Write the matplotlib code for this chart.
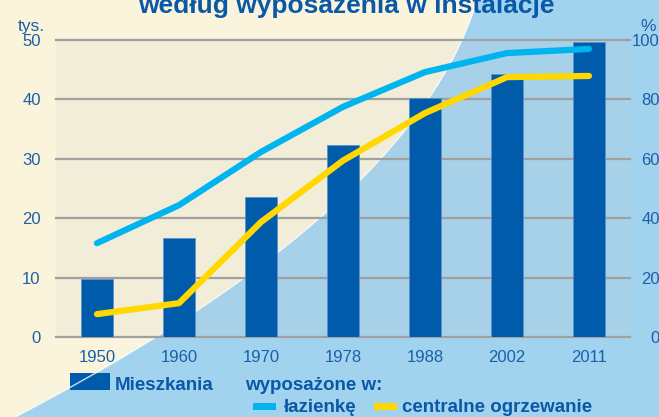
import numpy as np
import matplotlib
matplotlib.use('Agg')
import matplotlib.pyplot as plt
from matplotlib.patches import Polygon, Rectangle

# dane
lata = ['1950', '1960', '1970', '1978', '1988', '2002', '2011']
mieszkania = [9.8, 16.7, 23.6, 32.4, 40.2, 44.3, 49.7]      # tys.
lazienka = [31.6, 44.4, 62.3, 77.5, 89.2, 95.6, 97.0]       # %
ogrzewanie = [7.7, 11.4, 38.7, 59.4, 75.4, 87.5, 87.9]      # %

BEZ = '#FAF4DC'
NIEB = '#A2D3EE'
SLUPEK = '#005BAA'
CYJAN = '#00B5EF'
ZOLTY = '#FFD800'
TEKST = '#1A5FAA'
GRUBY = '#0A58A8'
SIATKA = '#A0A0A0'

plt.rcParams['font.family'] = ['Liberation Sans', 'DejaVu Sans']

W, H = 659, 417
fig = plt.figure(figsize=(W / 100, H / 100), dpi=100)

# tlo: bez + niebieski luk
bg = fig.add_axes([0, 0, 1, 1], zorder=0)
bg.set_xlim(0, W)
bg.set_ylim(H, 0)
bg.axis('off')
bg.add_patch(Rectangle((0, 0), W, H, color=BEZ, lw=0))
yy = np.linspace(0, H, 200)
xx = 477 - 0.3 * yy - 0.001937 * yy ** 2
bg.add_patch(Polygon(np.column_stack([np.r_[xx, W, W], np.r_[yy, H, 0]]), color=NIEB, lw=0))
bg.plot(xx, yy, color='white', lw=1.0, alpha=0.8)
bg.add_patch(Rectangle((56, 40), 574, 297, color='#C8C8C8', alpha=0.15, lw=0))

# wykres
ax = fig.add_axes([56 / W, 1 - 337 / H, 574 / W, 297 / H], zorder=1)
ax.patch.set_alpha(0)
x = np.arange(len(lata))
ax.bar(x, mieszkania, width=0.39, color=SLUPEK, edgecolor='#5B93CC', lw=0.6, zorder=2)
ax.set_xlim(-0.5, 6.5)
ax.set_ylim(0, 50)
ax.set_yticks(range(0, 51, 10))
ax.set_xticks(x, lata)
ax.grid(axis='y', color=SIATKA, lw=1.6)
ax.set_axisbelow(True)
for gl in ax.get_ygridlines():
    gl.set_clip_on(False)
for s in ax.spines.values():
    s.set_visible(False)
ax.tick_params(length=0, labelsize=12, labelcolor=TEKST)
ax.tick_params(axis='y', pad=11)
ax.tick_params(axis='x', pad=9)

ax2 = ax.twinx()
ax2.set_ylim(0, 100)
ax2.set_yticks(range(0, 101, 20))
ax2.plot(x, lazienka, color=CYJAN, lw=4.5, solid_capstyle='round', solid_joinstyle='round')
ax2.plot(x, ogrzewanie, color=ZOLTY, lw=4.5, solid_capstyle='round', solid_joinstyle='round')
for s in ax2.spines.values():
    s.set_visible(False)
ax2.tick_params(length=0, labelsize=12, labelcolor=TEKST, pad=21.5)
for lbl in ax2.get_yticklabels():
    lbl.set_horizontalalignment('right')

# opisy osi i tytul
fig.text(18 / W, 1 - 31 / H, 'tys.', fontsize=12.5, color=TEKST, va='baseline')
fig.text(640 / W, 1 - 31 / H, '%', fontsize=12.5, color=TEKST, va='baseline')
fig.text(346 / W, 1 - 13 / H, 'według wyposażenia w instalacje', fontsize=19,
         fontweight='bold', color=GRUBY, ha='center', va='baseline')

# legenda
bg.add_patch(Rectangle((70, 373), 40, 17, color=SLUPEK, lw=0))
bg.text(115, 390, 'Mieszkania', fontsize=13.5, fontweight='bold', color=GRUBY, va='baseline')
bg.text(245, 390, 'wyposażone w:', fontsize=13.5, fontweight='bold', color=GRUBY, va='baseline')
bg.add_patch(Rectangle((253, 403), 23, 7, color=CYJAN, lw=0))
bg.text(284, 412, 'łazienkę', fontsize=13.5, fontweight='bold', color=GRUBY, va='baseline')
bg.add_patch(Rectangle((374, 403), 23, 7, color=ZOLTY, lw=0))
bg.text(402, 412, 'centralne ogrzewanie', fontsize=13.5, fontweight='bold', color=GRUBY, va='baseline')

fig.savefig('out.png', dpi=100)
